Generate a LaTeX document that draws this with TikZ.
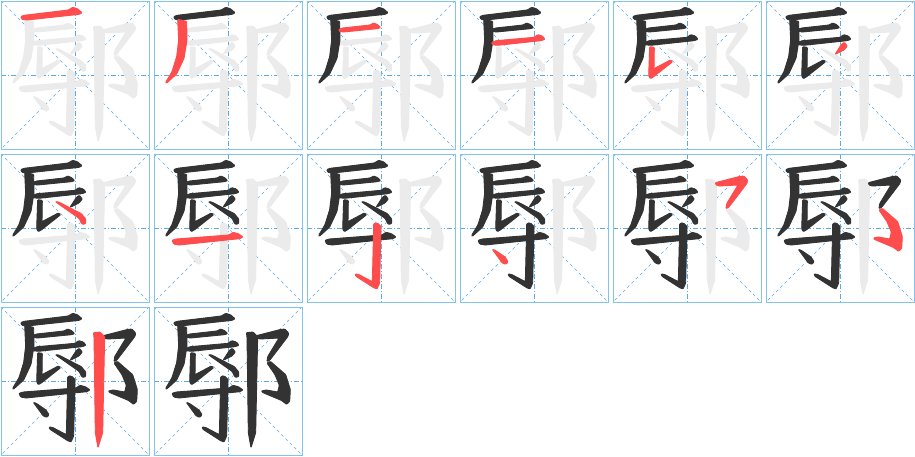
\documentclass[tikz,border=0pt]{standalone}
\definecolor{framec}{RGB}{130,195,240}
\definecolor{guidec}{RGB}{90,170,230}
\definecolor{strokegray}{RGB}{235,235,235}
\definecolor{strokedark}{RGB}{51,51,51}
\definecolor{strokered}{RGB}{255,77,77}
\tikzset{
  frame/.style={draw=framec, line width=1pt},
  guide/.style={draw=guidec, line width=0.8pt, dash pattern=on 5pt off 2pt on 1pt off 2pt},
  diag/.style={draw=guidec, line width=0.6pt, dash pattern=on 3pt off 3pt},
  glyph/.style={rounded corners=0.8pt, line width=0.9pt, line join=round}
}
\expandafter\def\csname stk1\endcsname{(62,50)--(72,46)--(205,30)--(218,22)--(232,26)--(246,38)--(238,43)--(80,60)--(66,58)--cycle}
\expandafter\def\csname stk2\endcsname{(74,58)--(101,64)--(102,120)--(93,175)--(71,222)--(40,250)--(38,247)--(57,215)--(71,170)--(77,120)--cycle}
\expandafter\def\csname stk3\endcsname{(98,88)--(110,84)--(192,75)--(203,69)--(215,74)--(224,83)--(214,86)--(112,96)--(100,94)--cycle}
\expandafter\def\csname stk4\endcsname{(98,127)--(112,122)--(225,112)--(236,104)--(250,108)--(258,118)--(246,122)--(115,136)--(100,134)--cycle}
\expandafter\def\csname stk5\endcsname{(113,140)--(127,142)--(126,206)--(175,180)--(182,185)--(125,230)--(115,236)--(110,228)--cycle}
\expandafter\def\csname stk6\endcsname{(210,163)--(230,132)--(238,127)--(247,138)--(237,150)--cycle}
\expandafter\def\csname stk7\endcsname{(166,146)--(176,147)--(244,182)--(257,198)--(257,212)--(247,214)--(237,196)--cycle}
\expandafter\def\csname stk8\endcsname{(57,262)--(70,258)--(228,246)--(240,238)--(256,242)--(270,252)--(260,257)--(78,276)--(62,273)--cycle}
\expandafter\def\csname stk9\endcsname{(203,212)--(214,210)--(225,220)--(221,390)--(213,408)--(203,404)--(150,370)--(147,363)--(157,364)--(199,386)--(203,225)--cycle}
\expandafter\def\csname stk10\endcsname{(100,289)--(109,292)--(138,312)--(147,326)--(141,334)--(130,330)--cycle}
\expandafter\def\csname stk11\endcsname{(310,89)--(318,87)--(380,71)--(395,69)--(407,81)--(405,91)--(350,163)--(342,167)--(344,152)--(378,96)--(322,99)--(312,96)--cycle}
\expandafter\def\csname stk12\endcsname{(342,171)--(352,166)--(398,206)--(412,251)--(410,286)--(401,295)--(385,283)--(330,260)--(325,255)--(340,252)--(374,258)--(379,238)--(366,206)--cycle}
\expandafter\def\csname stk13\endcsname{(280,80)--(300,78)--(314,92)--(308,380)--(294,425)--(286,380)--(282,92)--cycle}
\begin{document}
\begin{tikzpicture}[x=1pt,y=-1pt]
\useasboundingbox (0,0) rectangle (915,456);
\foreach \k in {1,...,14}{
  \pgfmathtruncatemacro\pcol{mod(\k-1,6)}
  \pgfmathtruncatemacro\prow{div(\k-1,6)}
  \begin{scope}[shift={(153*\pcol,153*\prow)}]
    \draw[diag] (1,1) -- (149,149);
    \draw[diag] (149,1) -- (1,149);
    \draw[guide] (1,75) -- (149,75);
    \draw[guide] (75,1) -- (75,149);
    \draw[frame] (1,1) rectangle (149,149);
    \begin{scope}[x=0.33333pt,y=-0.33333pt]
      \foreach \i in {1,...,13}{
        \expandafter\let\expandafter\curstk\csname stk\i\endcsname
        \filldraw[glyph, strokegray] \curstk;
      }
      \foreach \i in {1,...,13}{
        \expandafter\let\expandafter\curstk\csname stk\i\endcsname
        \ifnum\i<\k
          \filldraw[glyph, strokedark] \curstk;
        \else
          \ifnum\i=\k
            \filldraw[glyph, strokered] \curstk;
          \fi
        \fi
      }
    \end{scope}
  \end{scope}
}
\end{tikzpicture}
\end{document}
